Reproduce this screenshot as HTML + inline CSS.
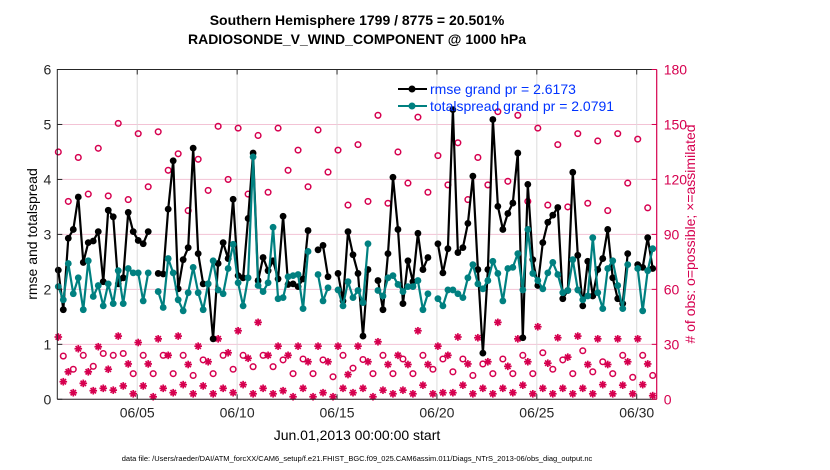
<!DOCTYPE html>
<html><head><meta charset="utf-8"><style>
body{margin:0;background:#fff;}
svg{display:block;font-family:"Liberation Sans",sans-serif;}
</style></head><body>
<svg id="chart" width="830" height="470" xmlns="http://www.w3.org/2000/svg">
<rect width="830" height="470" fill="#fff"/>
<g id="grid"></g>
<g id="marks"></g>
<g id="axes"></g>
<text x="357" y="25" text-anchor="middle" font-size="14" font-weight="bold">Southern Hemisphere 1799 / 8775 = 20.501%</text>
<text x="357" y="44" text-anchor="middle" font-size="14" font-weight="bold">RADIOSONDE_V_WIND_COMPONENT @ 1000 hPa</text>
<text transform="translate(37,234) rotate(-90)" text-anchor="middle" font-size="14">rmse and totalspread</text>
<text transform="translate(695,234) rotate(-90)" text-anchor="middle" font-size="14" fill="#d6004f"># of obs: o=possible; ×=assimilated</text>
<text x="357" y="440" text-anchor="middle" font-size="14">Jun.01,2013 00:00:00 start</text>
<text x="357" y="461" text-anchor="middle" font-size="7.5">data file: /Users/raeder/DAI/ATM_forcXX/CAM6_setup/f.e21.FHIST_BGC.f09_025.CAM6assim.011/Diags_NTrS_2013-06/obs_diag_output.nc</text>
<g>
<g>
<line x1="398" y1="89" x2="427" y2="89" stroke="#000" stroke-width="2"/><circle cx="412" cy="89" r="3.5" fill="#000"/>
<text x="430" y="94" font-size="14" fill="#0033ff">rmse grand pr = 2.6173</text></g>
<g>
<line x1="398" y1="106" x2="427" y2="106" stroke="#008080" stroke-width="2"/><circle cx="412" cy="106" r="3.5" fill="#008080"/>
<text x="430" y="111" font-size="14" fill="#0033ff">totalspread grand pr = 2.0791</text></g>
</g>
</svg>
<script>
const rmse = [2.35,1.63,2.93,3.09,3.68,2.49,2.85,2.88,3.05,2.14,3.44,3.32,2.1,2.21,3.4,3.05,2.89,2.83,3.05,null,2.29,2.28,3.46,4.34,2.01,2.54,2.76,4.57,2.65,2.1,
2.1,1.1,2.47,2.85,2.56,3.64,2.25,2.21,3.29,4.48,2.16,2.58,2.34,2.52,2.19,3.33,2.09,2.1,2.05,2.19,3.07,null,2.72,2.8,2.23,null,2.29,1.79,3.05,2.63,
2.29,1.15,2.36,null,2.16,1.63,2.65,4.04,3.09,1.74,2.52,2.14,3.02,2.36,2.58,null,2.83,2.3,2.74,5.27,2.67,2.76,3.2,4.06,2.36,0.84,2.36,5.09,3.51,3.09,
3.38,3.57,4.48,1.12,3.91,2.54,2.07,2.85,3.22,3.35,3.49,1.83,1.98,4.13,2.62,1.7,2.51,1.88,2.36,2.56,3.09,2.21,1.83,1.74,2.65,null,2.45,2.4,2.94,2.38];
const spread = [2.05,1.81,2.47,1.92,2.21,1.63,2.52,1.87,2.07,1.7,2.1,1.74,2.34,1.74,2.38,2.3,2.3,1.79,2.3,null,1.96,1.67,2.56,2.3,1.81,1.61,1.94,2.4,1.94,1.63,
2.1,2.52,1.99,1.92,2.38,2.82,2.12,1.7,2.21,4.41,2.07,1.96,2.12,3.13,1.83,1.85,2.23,2.25,2.27,1.65,2.69,null,2.27,1.79,2.03,null,1.99,1.7,2.14,1.85,
1.98,1.76,2.83,null,1.98,1.88,2.21,2.25,2.09,1.96,2.05,2.05,2.16,1.63,1.92,null,1.83,1.7,1.99,1.99,1.92,1.85,2.21,2.45,2.1,2.01,2.16,2.51,2.29,1.79,
2.38,2.4,2.65,1.99,3.09,2.29,2.16,2.01,2.3,2.49,2.27,1.94,1.98,2.54,1.99,1.81,1.88,2.94,1.94,1.65,2.38,2.52,2.07,1.65,2.45,null,2.38,1.61,2.34,2.74];
const possible = [135,23.6,108,16.4,132,24,112,18,137,25,111,24,150.6,25,109,14,145,24,116,14,146,24,125,14,134,24,103,13,131,21.5,
114,14,149,24,120,16.4,148,24,112,17.8,144,24,113,17.8,148,21.5,125,14,136,22,116,14,147,21.5,124,12.3,136,24,106,17,
139,21.7,108,14,155,24,107,14,135,22,118,14,154,24,113,16.4,133,22,117,15,140,22,109,13,132,19.3,117,14,157,22,
119,14,155,24,108,14,148,25.4,106,16.4,139,21.5,105,14,145,26.5,107,15,141,20.5,103,14,145,24,118,12,142,24,104.5,13];
const assimilated = [34,9.6,15,3.6,27.6,8.7,15,4.7,28.7,6,16.4,5,34.5,7.3,19.3,3,31,7.3,19.3,1.4,33,6,24,3.6,34.5,8,19,3,29,7.3,
20.5,3,33,6,25.4,3.6,37.4,8,22.4,3,42,6,24,3,29,4.7,24,1.4,29,6,20.5,1.4,29,3.6,20.5,1.4,29,6,13.5,3.6,
29,6,20.5,1.4,31.4,5,19,3,24,5,19,3,37.4,7.7,19,3,29,3.6,24,3.6,34,7.7,19.3,3,33.6,6,20.5,3,42,6,
18,3.6,33,7.7,20.5,3,39.6,6,19.7,3,33.6,6,23,3,34.5,6,19,3,33,8,19,3,33,7.7,20.5,3,33,8,19.3,2];
const xTickDays = [5,10,15,20,25,30];
const xTickLabels = ["06/05","06/10","06/15","06/20","06/25","06/30"];
const leftTicks = [0,1,2,3,4,5,6];
const rightTicks = [0,30,60,90,120,150,180];
const startDay = 1.05, stepDay = 0.25;

const L=57.3,R=656.7,T=69.5,B=399.3;
const xS=d=>L+(d-1)*(R-L)/30;
const yL=v=>B-v*(B-T)/6;
const yR=v=>B-v*(B-T)/180;
const NS="http://www.w3.org/2000/svg";
function mk(tag,attrs,parent){const e=document.createElementNS(NS,tag);for(const k in attrs)e.setAttribute(k,attrs[k]);parent.appendChild(e);return e;}
const grid=document.getElementById('grid'),marks=document.getElementById('marks'),axes=document.getElementById('axes');
rightTicks.forEach(t=>{const l=mk('line',{x1:L,x2:R,y1:yR(t),y2:yR(t),stroke:'#f3c3d5','stroke-width':1},grid);

});
xTickDays.forEach(d=>{const l=mk('line',{x1:xS(d),x2:xS(d),y1:T,y2:B,stroke:'#dcdcdc','stroke-width':1},grid);

});
possible.forEach((v,i)=>{const c=mk('circle',{cx:xS(startDay+i*stepDay),cy:yR(v),r:2.8,fill:'none',stroke:'#d6004f','stroke-width':1.5},marks);

});
assimilated.forEach((v,i)=>{const cx=xS(startDay+i*stepDay),cy=yR(v);const g=mk('g',{stroke:'#d6004f','stroke-width':1.7},marks);


for(let a=0;a<4;a++){const an=a*Math.PI/4;mk('line',{x1:cx-3.8*Math.cos(an),y1:cy-3.8*Math.sin(an),x2:cx+3.8*Math.cos(an),y2:cy+3.8*Math.sin(an)},g);}});
function series(arr,color,name){
let d='',pen=false;
arr.forEach((v,i)=>{if(v===null){pen=false;return;}const x=xS(startDay+i*stepDay),y=yL(v);d+=(pen?'L':'M')+x.toFixed(1)+' '+y.toFixed(1);pen=true;});
const p=mk('path',{d:d,fill:'none',stroke:color,'stroke-width':2.2,'stroke-linejoin':'round'},marks);


arr.forEach((v,i)=>{if(v===null)return;const c=mk('circle',{cx:xS(startDay+i*stepDay),cy:yL(v),r:3.4,fill:color},marks);

});
}
series(rmse,'#000','rmse');
series(spread,'#008080','totalspread');
const f1=mk('path',{d:`M${L} ${B}L${L} ${T}L${R} ${T}`,fill:'none',stroke:'#262626','stroke-width':1},axes);


const xa=mk('line',{x1:L,x2:R,y1:B,y2:B,stroke:'#262626','stroke-width':1},axes);


const ra=mk('line',{x1:R,x2:R,y1:T,y2:B,stroke:'#d6004f','stroke-width':1.2},axes);


leftTicks.forEach(t=>{mk('line',{x1:L,x2:L+5,y1:yL(t),y2:yL(t),stroke:'#262626'},axes);
const tx=mk('text',{x:L-6,y:yL(t)+5,'text-anchor':'end','font-size':14,fill:'#262626'},axes);tx.textContent=t;

});
rightTicks.forEach(t=>{mk('line',{x1:R-5,x2:R,y1:yR(t),y2:yR(t),stroke:'#d6004f'},axes);
const tx=mk('text',{x:R+7,y:yR(t)+5,'font-size':14,fill:'#d6004f'},axes);tx.textContent=t;

});
xTickDays.forEach((d,i)=>{mk('line',{x1:xS(d),x2:xS(d),y1:B,y2:B-5,stroke:'#262626'},axes);mk('line',{x1:xS(d),x2:xS(d),y1:T,y2:T+5,stroke:'#262626'},axes);
const tx=mk('text',{x:xS(d),y:B+18,'text-anchor':'middle','font-size':14,fill:'#262626'},axes);tx.textContent=xTickLabels[i];

});
</script>
</body></html>
